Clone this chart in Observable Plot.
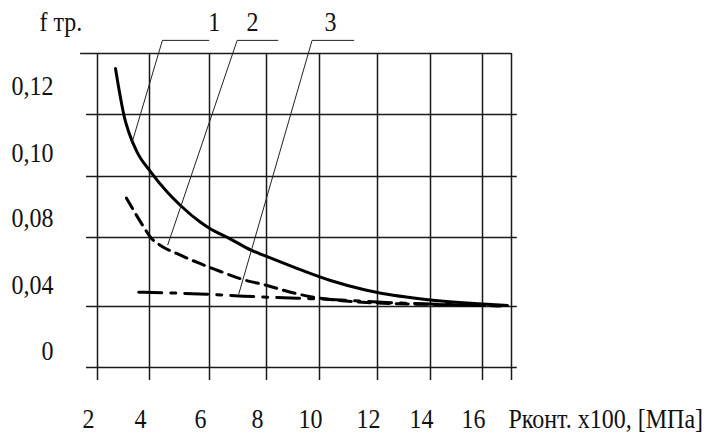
<!DOCTYPE html>
<html>
<head>
<meta charset="utf-8">
<script src="https://cdn.jsdelivr.net/npm/d3@7"></script>
<script src="https://cdn.jsdelivr.net/npm/@observablehq/plot@0.6"></script>
<style>
  html, body { margin: 0; padding: 0; background: #fff; }
  #chart svg { display: block; }
  #chart svg text { font-family: "Liberation Serif", "DejaVu Serif", "Times New Roman", serif !important; }
</style>
</head>
<body>
<div id="chart"></div>
<script>
// Contact pressure (×100 MPa) and friction coefficient for three cases
const xTicks = [2, 4, 6, 8, 10, 12, 14, 16];
const yTicks = [0, 0.04, 0.08, 0.10, 0.12];
const yTickLabels = ["0", "0,04", "0,08", "0,10", "0,12"];

const curve1X = [2.692, 2.788, 2.904, 3.038, 3.204, 3.527, 4.033, 4.59, 5.033, 5.70, 6.0, 6.737, 7.439, 8.0, 9.17, 10.379, 11.586, 12.0, 14.0, 16.0, 16.862];
const curve1Y = [0.1351, 0.1302, 0.1246, 0.1190, 0.1143, 0.1078, 0.1016, 0.0949, 0.0905, 0.0850, 0.0830, 0.0791, 0.0728, 0.0690, 0.0620, 0.0551, 0.0496, 0.0481, 0.0438, 0.0414, 0.0406];

const curve2X = [3.115, 3.781, 4.033, 4.367, 4.923, 5.70, 6.386, 7.204, 8.026, 8.906, 9.66, 10.379, 12.0, 14.0, 16.0, 16.62];
const curve2Y = [0.0929, 0.0834, 0.0801, 0.0754, 0.0706, 0.0648, 0.0603, 0.0555, 0.0522, 0.0483, 0.0457, 0.0441, 0.0420, 0.0412, 0.0406, 0.0403];

const curve3X = [3.588, 5.923, 7.204, 9.158, 10.379, 12.0, 14.0, 16.0, 16.62];
const curve3Y = [0.0483, 0.0471, 0.0460, 0.0448, 0.0441, 0.0426, 0.0414, 0.0407, 0.0404];

// Numbered callouts: label, where its shelf starts/ends, and the point it marks on the curve
const calloutLabels = ["1", "2", "3"];
const calloutLabelX = [6.17, 7.51, 10.38];
const shelfStartX = [4.43, 6.97, 9.72];
const shelfEndX = [5.98, 8.43, 11.18];
const targetX = [3.335, 4.61, 7.03];
const targetY = [0.1111, 0.0758, 0.0474];

const toPoints = (xs, ys) => xs.map((x, i) => ({x, y: ys[i]}));
const c1 = toPoints(curve1X, curve1Y);
const c2 = toPoints(curve2X, curve2Y);
const c3 = toPoints(curve3X, curve3Y);

const shelfY = 0.1443;
const labelY = 0.1502;
const callouts = calloutLabels.map((label, i) => ({
  label, lx: calloutLabelX[i], sx: shelfStartX[i], ex: shelfEndX[i], tx: targetX[i], ty: targetY[i]
}));
const leaderPaths = callouts.map(c => [
  {x: c.tx, y: c.ty, k: c.label},
  {x: c.sx, y: shelfY, k: c.label},
  {x: c.ex, y: shelfY, k: c.label}
]).flat();

const gridX = [...xTicks, 17];
const txt = {fontFamily: "Liberation Serif, DejaVu Serif, serif", fontSize: 24, fill: "#111"};

// y tick labels sit a little above their grid lines (hand-set vertical offsets)
const yLabelOffsets = [-16.5, -21, -19, -23.5, -28];
const yLabelMarks = yTicks.map((t, i) =>
  Plot.text([t], {x: 2, y: d => d, text: () => yTickLabels[i], textAnchor: "end",
    dx: -44, dy: yLabelOffsets[i], ...txt}));

const chart = Plot.plot({
  width: 715,
  height: 437,
  margin: 0,
  style: {background: "#fff", color: "#111"},
  x: {type: "linear", domain: [2, 4, 6, 8, 10, 12, 14, 16, 17],
      range: [97, 149, 209, 266, 319, 377, 430, 482, 511], axis: null},
  y: {type: "linear", domain: [0, 0.04, 0.08, 0.10, 0.12, 0.14],
      range: [367, 306, 237, 176, 114, 53], axis: null},
  marks: [
    // grid
    Plot.ruleX(gridX, {x: d => d, y1: -0.0085, y2: 0.14, stroke: "#1a1a1a", strokeWidth: 1.5}),
    Plot.ruleY(yTicks, {y: d => d, x1: 1.58, x2: 17.2, stroke: "#1a1a1a", strokeWidth: 1.5}),
    Plot.ruleY([0.14], {y: d => d, x1: 1.35, x2: 17, stroke: "#1a1a1a", strokeWidth: 1.5}),
    // curves
    Plot.line(c3, {x: "x", y: "y", curve: "monotone-x", stroke: "#000", strokeWidth: 3,
      strokeDasharray: "23,9,5,9"}),
    Plot.line(c2, {x: "x", y: "y", curve: "monotone-x", stroke: "#000", strokeWidth: 3,
      strokeDasharray: "12,7"}),
    Plot.line(c1, {x: "x", y: "y", curve: "monotone-x", stroke: "#000", strokeWidth: 3}),
    // callouts
    Plot.line(leaderPaths, {x: "x", y: "y", z: "k", stroke: "#222", strokeWidth: 1}),
    Plot.text(callouts, {x: "lx", y: labelY, text: "label", ...txt}),
    // tick labels
    Plot.text(xTicks, {x: d => d, y: 0, text: d => String(d), dx: -9, dy: 52, ...txt}),
    ...yLabelMarks,
    // axis titles
    Plot.text(["f тр."], {x: 2, y: 0.14, text: d => d, textAnchor: "start", dx: -58, dy: -31, ...txt}),
    Plot.text(["Рконт. х100, [МПа]"], {x: 16, y: 0, text: d => d, textAnchor: "start",
      dx: 26, dy: 52, ...txt})
  ]
});

// the lettering is slightly tall and narrow: stretch each label vertically about its anchor
d3.select(chart).selectAll("text").each(function () {
  const t = this.getAttribute("transform") || "";
  this.setAttribute("transform", `${t} scale(1,1.13)`);
});

document.getElementById("chart").appendChild(chart);
</script>
</body>
</html>
